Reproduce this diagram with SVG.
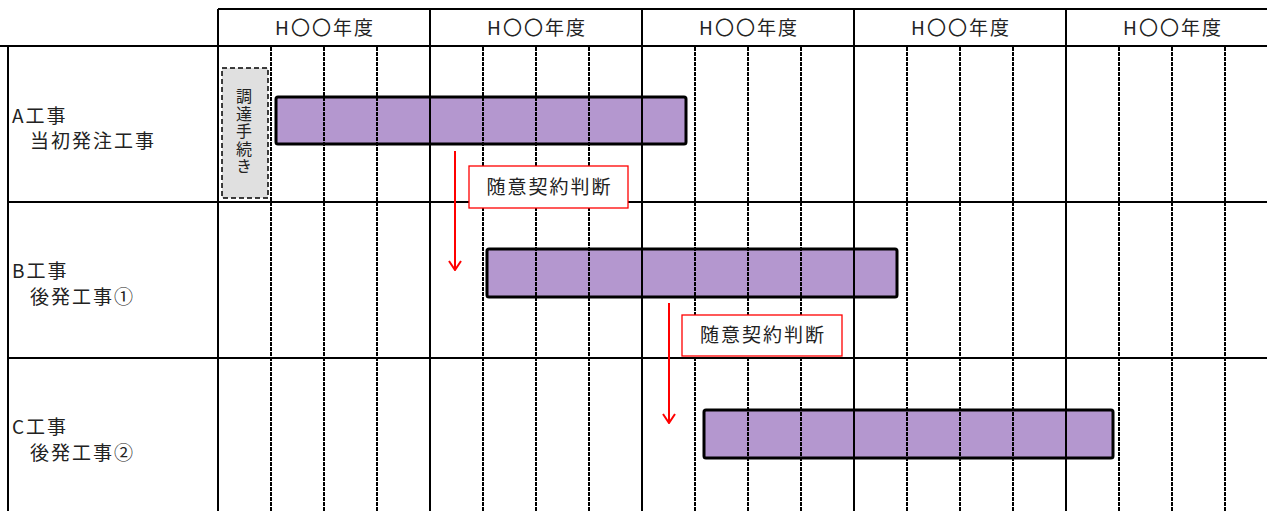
<svg xmlns="http://www.w3.org/2000/svg" width="1267" height="511" viewBox="0 0 1267 511">
<defs>
<style>
.solid{stroke:#000;stroke-width:2;fill:none}
.dash{stroke:#000;stroke-width:2;stroke-dasharray:4 1;fill:none}
.bar{fill:#b497cf;stroke:#000;stroke-width:3}
.hdr{font-family:"Noto Sans CJK JP","Noto Sans",sans-serif;font-size:19px;letter-spacing:2px;fill:#222;text-anchor:middle}
.lbl{font-family:"Noto Sans CJK JP","Noto Sans",sans-serif;font-size:19px;letter-spacing:2px;fill:#222}
.vt{font-family:"Noto Sans CJK JP",sans-serif;font-size:16px;letter-spacing:1.5px;fill:#222;text-anchor:middle;writing-mode:vertical-rl}
.judge{fill:#fff;stroke:#ff0000;stroke-width:1.3}
.arrow{stroke:#ff0000;stroke-width:2;fill:none}
</style>
<marker id="ah" viewBox="0 0 12 14" refX="11" refY="7" markerWidth="12" markerHeight="14" markerUnits="userSpaceOnUse" orient="auto">
<path d="M2,1 L11,7 L2,13" fill="none" stroke="#ff0000" stroke-width="2"/>
</marker>
</defs>
<rect x="0" y="0" width="1267" height="511" fill="#fff"/>

<g id="bars">
<rect id="bar-a" class="bar" x="276" y="97" width="410" height="47" rx="2"/>
<rect id="bar-b" class="bar" x="487" y="249" width="410" height="48" rx="2"/>
<rect id="bar-c" class="bar" x="704" y="410" width="409" height="48" rx="2"/>
</g>

<g id="grid">
<line class="solid" x1="218" y1="9" x2="1267" y2="9"/>
<line class="solid" x1="0" y1="46" x2="1267" y2="46"/>
<line class="solid" x1="8" y1="202" x2="1267" y2="202"/>
<line class="solid" x1="8" y1="358" x2="1267" y2="358"/>
<line class="solid" x1="8" y1="46" x2="8" y2="511"/>
<line class="solid" x1="218" y1="9" x2="218" y2="511"/>
<line class="solid" x1="430" y1="9" x2="430" y2="511"/>
<line class="solid" x1="642" y1="9" x2="642" y2="511"/>
<line class="solid" x1="854" y1="9" x2="854" y2="511"/>
<line class="solid" x1="1066" y1="9" x2="1066" y2="511"/>
<g class="dash">
<line x1="271" y1="47" x2="271" y2="511"/>
<line x1="324" y1="47" x2="324" y2="511"/>
<line x1="377" y1="47" x2="377" y2="511"/>
<line x1="483" y1="47" x2="483" y2="511"/>
<line x1="536" y1="47" x2="536" y2="511"/>
<line x1="589" y1="47" x2="589" y2="511"/>
<line x1="695" y1="47" x2="695" y2="511"/>
<line x1="748" y1="47" x2="748" y2="511"/>
<line x1="801" y1="47" x2="801" y2="511"/>
<line x1="907" y1="47" x2="907" y2="511"/>
<line x1="960" y1="47" x2="960" y2="511"/>
<line x1="1013" y1="47" x2="1013" y2="511"/>
<line x1="1119" y1="47" x2="1119" y2="511"/>
<line x1="1172" y1="47" x2="1172" y2="511"/>
<line x1="1225" y1="47" x2="1225" y2="511"/>
</g>
</g>

<g id="headers">
<text class="hdr" x="325" y="35">H〇〇年度</text>
<text class="hdr" x="537" y="35">H〇〇年度</text>
<text class="hdr" x="749" y="35">H〇〇年度</text>
<text class="hdr" x="961" y="35">H〇〇年度</text>
<text class="hdr" x="1173" y="35">H〇〇年度</text>
</g>

<g id="row-labels">
<text class="lbl" x="12" y="123">A工事</text>
<text class="lbl" x="30" y="148">当初発注工事</text>
<text class="lbl" x="12" y="278">B工事</text>
<text class="lbl" x="30" y="304">後発工事①</text>
<text class="lbl" x="12" y="434">C工事</text>
<text class="lbl" x="30" y="460">後発工事②</text>
</g>

<g id="procurement">
<rect x="222" y="68" width="46" height="130" fill="#e0e0e0" stroke="#000" stroke-width="1.5" stroke-dasharray="5 3"/>
<text class="vt" x="244" y="132">調達手続き</text>
</g>

<g id="connectors">
<line class="arrow" x1="455" y1="151" x2="455" y2="270" marker-end="url(#ah)"/>
<line class="arrow" x1="669" y1="303" x2="669" y2="423" marker-end="url(#ah)"/>
</g>

<g id="judge-1">
<rect class="judge" x="469" y="166" width="159" height="42"/>
<text class="hdr" x="549.5" y="194">随意契約判断</text>
</g>
<g id="judge-2">
<rect class="judge" x="682" y="315" width="160" height="41"/>
<text class="hdr" x="763" y="342">随意契約判断</text>
</g>
</svg>
